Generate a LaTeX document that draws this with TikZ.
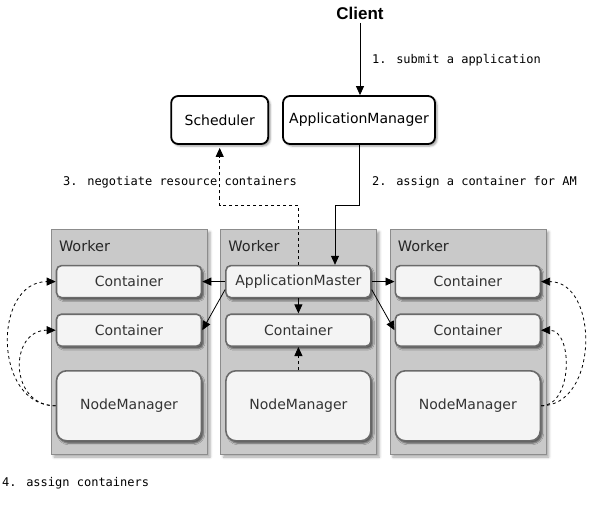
\documentclass[tikz,border=0pt]{standalone}
\usepackage{fontspec}
\setmainfont{DejaVu Sans}
\newfontfamily\codefont{DejaVu Sans Mono}
\newfontfamily\titlefont{Liberation Sans}
\usepackage{xcolor}
\usetikzlibrary{positioning, arrows.meta, shadows.blur}
\definecolor{workergray}{HTML}{C9C9C9}
\definecolor{workerline}{HTML}{8C8C8C}
\definecolor{boxfill}{HTML}{F4F4F4}
\definecolor{boxline}{HTML}{6A6A6A}
\definecolor{boxtext}{HTML}{333333}
\tikzset{
    >={Triangle[length=9pt, width=8pt]}, % filled arrow heads
    node distance=13pt, % gap between neighbouring workers
    master/.style={draw=black, line width=1.8pt, fill=white, rounded corners=7pt,
        minimum height=48pt, inner sep=2pt, font=\fontsize{14}{16}\selectfont,
        blur shadow={shadow xshift=2pt, shadow yshift=-2pt, shadow blur radius=2pt}},
    worker/.style={draw=workerline, fill=workergray, minimum width=156pt, minimum height=225pt,
        blur shadow={shadow xshift=3pt, shadow yshift=-3pt, shadow blur radius=2.5pt, shadow opacity=35}},
    part/.style={draw=boxline, line width=1.6pt, fill=boxfill, rounded corners=5pt,
        minimum width=145pt, minimum height=32pt, inner sep=1pt, text=boxtext,
        font=\fontsize{14}{16}\selectfont,
        blur shadow={shadow xshift=2pt, shadow yshift=-2.5pt, shadow blur radius=1.5pt, shadow opacity=55}},
    manager/.style={part, minimum height=70pt, rounded corners=10pt},
    title/.style={inner sep=0pt, text=black!85, font=\fontsize{14.5}{16}\selectfont},
    msg/.style={inner sep=0pt, font=\codefont\fontsize{12}{14}\selectfont},
    link/.style={->, line width=0.8pt},
    ask/.style={->, line width=0.8pt, dashed},
}

\begin{document}
\begin{tikzpicture}[x=1pt, y=-1pt]
    \useasboundingbox (0,0) rectangle (600,508);

    % top row
    \node[font=\titlefont\bfseries\fontsize{17}{19}\selectfont] (client) at (360,13) {Client};
    \node[master, minimum width=152pt] (am) at (359,120) {ApplicationManager};
    \node[master, minimum width=97pt] (sched) [left=of am] {Scheduler};

    % workers
    \node[worker] (w1) at (129,341.5) {};
    \node[worker] (w2) [right=of w1] {};
    \node[worker] (w3) [right=of w2] {};

    \node[title, anchor=west] (t1) at ([xshift=8pt, yshift=-17pt]w1.north west) {Worker};
    \node[title, anchor=west] (t2) at ([xshift=8pt, yshift=-17pt]w2.north west) {Worker};
    \node[title, anchor=west] (t3) at ([xshift=8pt, yshift=-17pt]w3.north west) {Worker};

    \node[part] (c11) [below=36pt of w1.north] {Container};
    \node[part] (c12) [below=15pt of c11] {Container};
    \node[manager] (nm1) [below=23pt of c12] {NodeManager};

    \node[part] (amaster) [below=36pt of w2.north] {ApplicationMaster};
    \node[part] (c22) [below=15pt of amaster] {Container};
    \node[manager] (nm2) [below=23pt of c22] {NodeManager};

    \node[part] (c31) [below=36pt of w3.north] {Container};
    \node[part] (c32) [below=15pt of c31] {Container};
    \node[manager] (nm3) [below=23pt of c32] {NodeManager};

    % steps
    \coordinate (bend2) at (335,205);
    \coordinate (bend3) at (sched.south |- bend2);

    \draw[link] (client.south) -- (client.south |- am.north);
    \node[msg, anchor=west] (m1) at (372,60) {1. submit a application};

    \draw[link] (am.south) |- (bend2) -- (bend2 |- amaster.north);
    \node[msg, anchor=west] (m2) at (372,182) {2. assign a container for AM};

    \draw[ask, shorten >=3pt] (amaster.north) |- (bend3) -- (sched.south);
    \node[msg, anchor=east] (m3) at (297,182) {3. negotiate resource containers};

    \draw[link] (amaster.west) -- (c11.east);
    \draw[link] ([yshift=-8pt]amaster.west) -- (c12.east);
    \draw[link] (amaster.east) -- (c31.west);
    \draw[link] ([yshift=-8pt]amaster.east) -- (c32.west);
    \draw[link] (amaster.south) -- (c22.north);
    \draw[ask] (nm2.north) -- (c22.south);

    \draw[ask] (nm1.west) .. controls +(-63,0) and +(-63,0) .. (c11.west);
    \draw[ask] (nm1.west) .. controls +(-47,0) and +(-47,0) .. (c12.west);
    \draw[ask] (nm3.east) .. controls +(58,0) and +(58,0) .. (c31.east);
    \draw[ask] (nm3.east) .. controls +(32,0) and +(32,0) .. (c32.east);
    \node[msg, anchor=west] (m4) at (2,483) {4. assign containers};
\end{tikzpicture}
\end{document}
